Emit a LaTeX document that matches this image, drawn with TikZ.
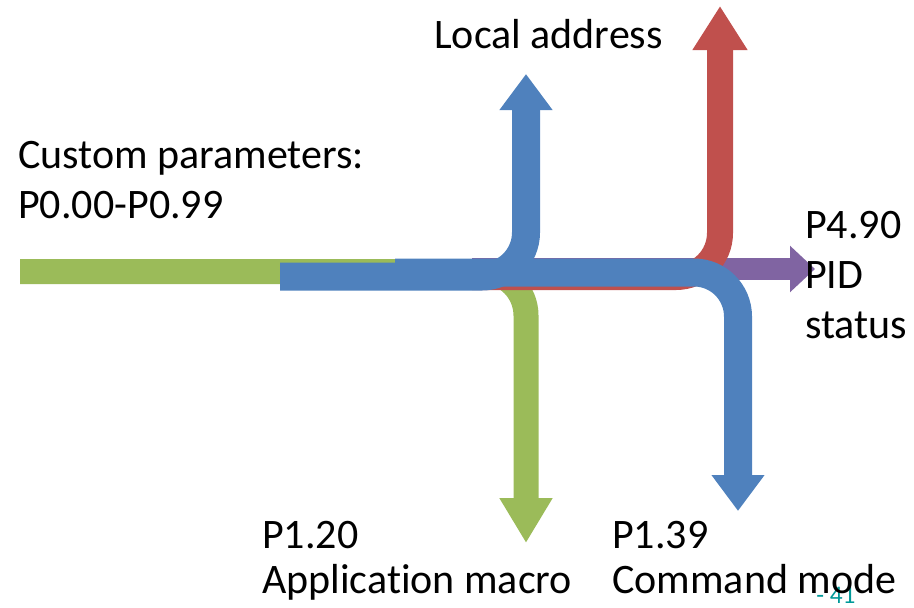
\documentclass[tikz,border=0pt]{standalone}
\usepackage{fontspec}
\setmainfont[Ligatures=NoCommon]{Carlito}
\usetikzlibrary{arrows.meta}

\definecolor{flowgreen}{RGB}{155,187,89}
\definecolor{flowblue}{RGB}{79,129,189}
\definecolor{flowred}{RGB}{192,80,77}
\definecolor{flowpurple}{RGB}{128,100,162}
\definecolor{pageteal}{RGB}{0,153,153}

\begin{document}
\begin{tikzpicture}[x=0.75pt, y=-0.75pt, line cap=butt,
  flow/.style={rounded corners=33pt},
  g/.style={flow, flowgreen, line width=18.75pt, -{Triangle[length=33.75pt, width=37.5pt]}},
  b/.style={flow, flowblue, line width=21pt, -{Triangle[length=27pt, width=38pt]}},
  r/.style={flow, flowred, line width=19.5pt, -{Triangle[length=33pt, width=39pt]}},
  p/.style={flowpurple, line width=16.5pt, -{Triangle[length=18.75pt, width=33.75pt]}},
  lbl/.style={anchor=base west, inner sep=0pt, align=left, font=\fontsize{31.5}{37.5}\selectfont},
  lblb/.style={lbl, font=\fontsize{31.5}{33.75}\selectfont}]

  \useasboundingbox (0,0) rectangle (914,607);

  % start and end points of the flows
  \coordinate (gstart) at (20,271.5);
  \coordinate (gend) at (526,543);
  \coordinate (pstart) at (472,269);
  \coordinate (pend) at (815,269);
  \coordinate (rstart) at (472,277);
  \coordinate (rend) at (720,6);
  \coordinate (bastart) at (280,276.5);
  \coordinate (baend) at (526,74);
  \coordinate (bbstart) at (395,272.5);
  \coordinate (bbend) at (738,511);

  % flows, bottom to top
  \draw[g] (gstart) -| (gend);
  \draw[p] (pstart) -- (pend);
  \draw[r] (rstart) -| (rend);
  \draw[b] (bastart) -| (baend);
  \draw[b] (bbstart) -| (bbend);

  % labels (base = last line)
  \node[lbl] (local) at (434,48) {Local address};
  \node[lbl] (custom) at (18,218) {Custom parameters:\\P0.00-P0.99};
  \node[lbl] (pid) at (805,338) {P4.90\\PID\\status};
  \node[anchor=base west, inner sep=0pt, pageteal, font=\fontsize{19}{19}\selectfont] (page) at (816,603) {- 41};
  \node[lblb] (appmacro) at (262,593) {P1.20\\Application macro};
  \node[lblb] (cmdmode) at (612,593) {P1.39\\Command mode};

\end{tikzpicture}
\end{document}
